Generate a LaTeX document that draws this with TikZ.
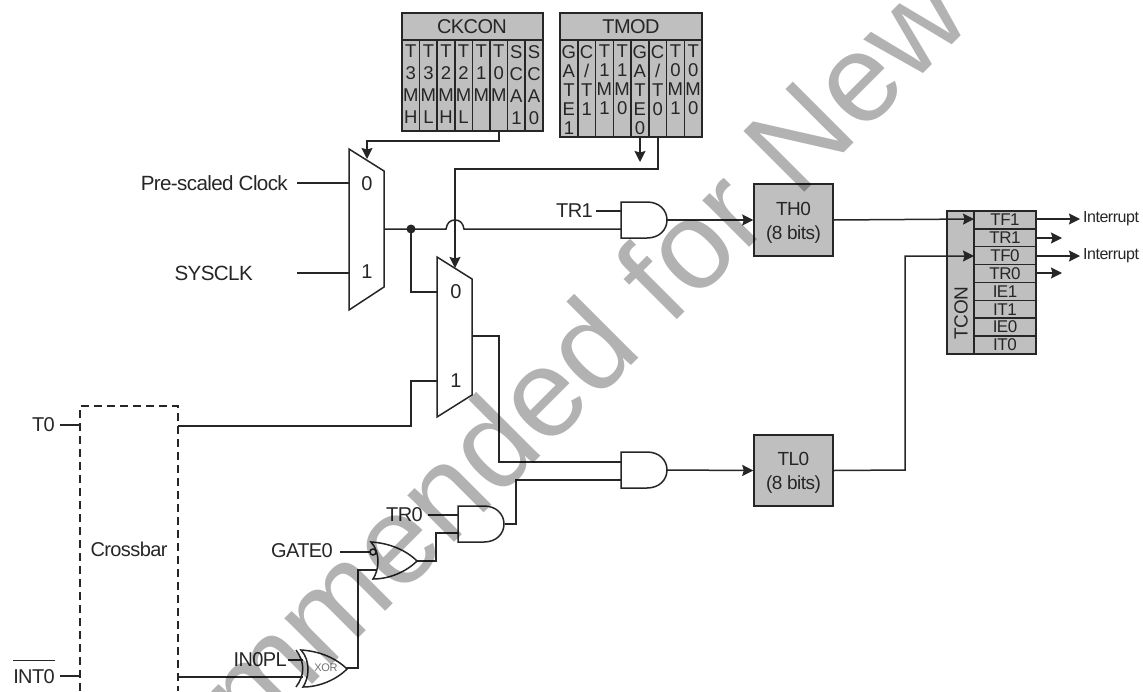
\documentclass[tikz,border=0pt]{standalone}
\usepackage{fontspec}
\setmainfont[LetterSpace=-3]{Liberation Sans}
\newfontfamily\markfont{Liberation Sans}
\usetikzlibrary{arrows.meta}
\definecolor{boxgray}{gray}{0.75}
\definecolor{markgray}{gray}{0.70}
\definecolor{inkgray}{gray}{0.15}
\tikzset{
	wire/.style={draw=inkgray, line width=1.5pt},
	arrowwire/.style={wire, -{Stealth[length=11pt,width=11pt,inset=1.5pt]}},
	txt/.style={inner sep=0pt, text=inkgray, font=\fontsize{20}{24}\selectfont},
	bitcol/.style={txt, anchor=north, align=center, font=\fontsize{18.5}{#1}\selectfont},
	regbox/.style={draw=inkgray, line width=1.5pt, fill=boxgray},
	andgate/.pic={
		\draw[wire] (0,0) -- (26,0) .. controls (38,0) and (46,8) .. (46,18)
		.. controls (46,28) and (38,36) .. (26,36) -- (0,36) -- cycle;
	},
	orgate/.pic={
		\draw[wire] (0,0) .. controls (18,1) and (35,8) .. (46,19)
		.. controls (35,30) and (18,37) .. (2,37) .. controls (8,28) and (10,11) .. (0,0) -- cycle;
	},
}
\begin{document}
\begin{tikzpicture}[x=1pt, y=-1pt]
	\useasboundingbox (0,0) rectangle (1143,691);
	
	% CKCON
	\draw[regbox] (402,13) rectangle (543,131);
	\draw[regbox] (402,13) rectangle (543,40);
	\node (ckcon) [txt] at (472,27) {CKCON};
	\foreach \i in {1,...,7}
		\draw[wire] ({402+17.6*\i},40) -- ({402+17.6*\i},131);
	\foreach \i/\bits in {0/T\\3\\M\\H, 1/T\\3\\M\\L, 2/T\\2\\M\\H, 3/T\\2\\M\\L, 4/T\\1\\M, 5/T\\0\\M, 6/S\\C\\A\\1, 7/S\\C\\A\\0}
		\node (ck\i) [bitcol=22] at ({410.8+17.6*\i},45) {\bits};
	
	% TMOD
	\draw[regbox] (560,13) rectangle (702,137);
	\draw[regbox] (560,13) rectangle (702,40);
	\node (tmod) [txt] at (631,27) {TMOD};
	\foreach \i in {1,...,7}
		\draw[wire] ({560+17.75*\i},40) -- ({560+17.75*\i},137);
	\foreach \i/\bits in {0/{G\\A\\T\\E\\1}, 1/{C\\{/}\\T\\1}, 2/{T\\1\\M\\1}, 3/{T\\1\\M\\0}, 4/{G\\A\\T\\E\\0}, 5/{C\\{/}\\T\\0}, 6/{T\\0\\M\\1}, 7/{T\\0\\M\\0}}
		\node (tm\i) [bitcol=19] at ({568.9+17.75*\i},45) {\bits};
	
	% muxes
	\draw[wire] (349,149) -- (384,171) -- (384,287) -- (349,310) -- cycle;
	\draw[wire] (437,257) -- (472,279) -- (472,395) -- (437,417) -- cycle;
	\node (muxa0) [txt] at (367,184) {0};
	\node (muxa1) [txt] at (367,272) {1};
	\node (muxb0) [txt] at (456,292) {0};
	\node (muxb1) [txt] at (456,381) {1};
	
	% gates
	\pic at (621,202) {andgate};
	\pic at (621,452) {andgate};
	\pic at (458,506) {andgate};
	\pic at (371,542) {orgate};
	\pic at (301,650) {orgate};
	\draw[wire] (296,650) .. controls (305,662) and (305,675) .. (296,687);
	\draw[wire, fill=white] (373,552) circle (3);
	\node (xor) [txt, text=black!55, font=\fontsize{11}{11}\selectfont] at (326,668) {XOR};
	
	% grey blocks
	\node (th0) [regbox, txt, align=center, minimum width=79pt, minimum height=72pt, draw=inkgray, font=\fontsize{19}{24}\selectfont] at (793.5,220) {\rule{0pt}{18pt}TH0\\(8 bits)};
	\node (tl0) [regbox, txt, align=center, minimum width=79pt, minimum height=71pt, draw=inkgray, font=\fontsize{19}{24}\selectfont] at (793.5,470.5) {\rule{0pt}{18pt}TL0\\(8 bits)};
	
	% TCON
	\draw[regbox] (947,211) rectangle (1036,354);
	\draw[wire] (974,211) -- (974,354);
	\foreach \i/\flag in {0/TF1,1/TR1,2/TF0,3/TR0,4/IE1,5/IT1,6/IE0,7/IT0} {
		\node (fl\flag) [txt, font=\fontsize{17}{18}\selectfont] at (1005,{219.9+17.87*\i}) {\flag};
		\draw[wire] (974,{211+17.87*\i}) -- (1036,{211+17.87*\i});
	}
	\node (tcon) [txt, rotate=90, anchor=center, font=\fontsize{19}{20}\selectfont] at (961,313) {TCON};
	
	% crossbar
	\draw[wire, dash pattern=on 8pt off 5pt] (80,691) -- (80,406) -- (178,406) -- (178,691);
	\node (xbar) [txt] at (129,549) {Crossbar};
	
	% input labels
	\node (psc) [txt, anchor=east, font=\fontsize{20.6}{24}\selectfont] at (288,183) {Pre-scaled Clock};
	\node (sysclk) [txt, anchor=east, font=\fontsize{20.6}{24}\selectfont] at (253,273) {SYSCLK};
	\node (tr1) [txt, anchor=east] at (593,211) {TR1};
	\node (tr0) [txt, anchor=east] at (423,515) {TR0};
	\node (gate0) [txt, anchor=east] at (333,551) {GATE0};
	\node (in0pl) [txt, anchor=east] at (287,660) {IN0PL};
	\node (t0) [txt, anchor=east] at (55,425) {T0};
	\node (int0) [txt, anchor=base east] at (55,683) {$\overline{\rule{0pt}{21pt}\mbox{INT0}}$};
	\node (irqa) [txt, anchor=west, font=\fontsize{16}{16}\selectfont] at (1083,219) {Interrupt};
	\node (irqb) [txt, anchor=west, font=\fontsize{16}{16}\selectfont] at (1083,256) {Interrupt};
	
	% connectors
	\coordinate (dot) at (411,229);
	\fill[inkgray] (dot) circle (4.5);
	\draw[wire] (297,183) -- (349,183);
	\draw[wire] (297,273) -- (349,273);
	\draw[wire] (384,229) -- (446,229) .. controls (447,223) and (450,220) .. (455,220)
		.. controls (460,220) and (463,223) .. (464,229) -- (621,229);
	\draw[wire] (dot) -- (411,292) -- (437,292);
	\draw[wire] (178,426) -- (411,426) -- (411,381) -- (437,381);
	\draw[arrowwire] (499,131) -- (499,141) -- (367,141) -- (367,159);
	\draw[arrowwire] (640,137) -- (640,162);
	\draw[arrowwire] (658,137) -- (658,169) -- (455,169) -- (455,268);
	\draw[wire] (596,211) -- (621,211);
	\draw[arrowwire] (667,220) -- (th0.west);
	\draw[wire] (472,336) -- (499,336) -- (499,462) -- (621,462);
	\draw[wire] (505,524) -- (516,524) -- (516,480) -- (621,480);
	\draw[arrowwire] (667,470) -- (tl0.west);
	\draw[wire] (428,515) -- (458,515);
	\draw[wire] (416,561) -- (436,561) -- (436,533) -- (458,533);
	\draw[wire] (340,552) -- (370,552);
	\draw[wire] (346,668) -- (358,668) -- (358,570) -- (376,570);
	\draw[wire] (288,660) -- (303,660);
	\draw[wire] (178,677) -- (303,677);
	\draw[wire] (60,425) -- (80,425);
	\draw[wire] (60,676) -- (80,676);
	\draw[arrowwire] (th0.east) -- (974,219);
	\draw[arrowwire] (tl0.east) -- (905,470) -- (905,256) -- (974,256);
	\draw[arrowwire] (1036,219) -- (1080,219);
	\draw[arrowwire] (1036,238) -- (1062,238);
	\draw[arrowwire] (1036,256) -- (1080,256);
	\draw[arrowwire] (1036,273) -- (1062,273);
	
	% watermark
	\begin{scope}[blend mode=multiply]
		\node (mark) [rotate=45, anchor=base, inner sep=0pt, text=markgray, font=\markfont\fontsize{125}{125}\selectfont] at (601,396) {Not Recommended for New Designs};
	\end{scope}
\end{tikzpicture}
\end{document}
